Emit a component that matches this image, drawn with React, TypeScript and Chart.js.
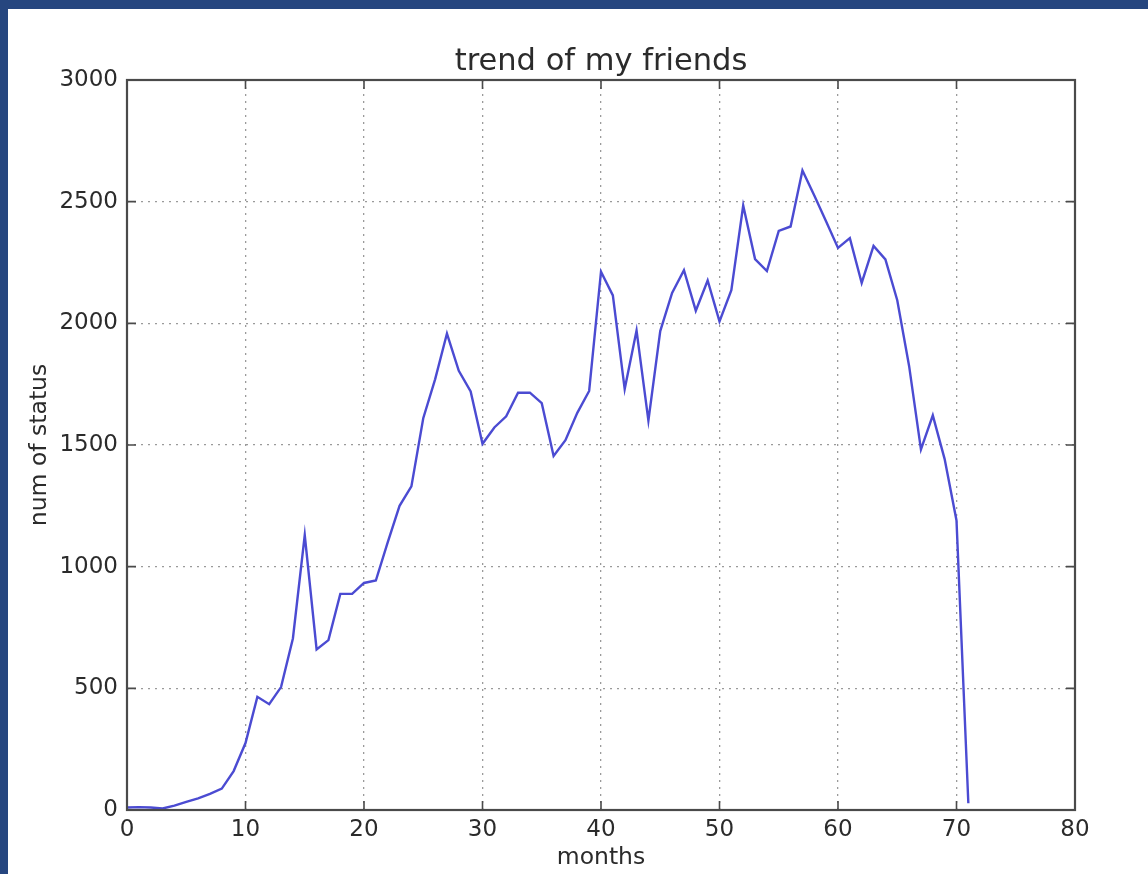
import React, { useEffect, useRef } from "react";
import { Chart, registerables } from "chart.js";

Chart.register(...registerables);

const TITLE = "trend of my friends";
const X_LABEL = "months";
const Y_LABEL = "num of status";

const statusCounts: number[] = [
  10, 12, 10, 6, 18, 33, 48, 66, 88, 160,
  275, 465, 435, 505, 705, 1130, 660, 698, 888, 888,
  933, 943, 1100, 1250, 1330, 1610, 1770, 1958, 1805, 1720,
  1505, 1572, 1618, 1715, 1715, 1672, 1455, 1520, 1632, 1722,
  2212, 2115, 1730, 1970, 1600, 1968, 2125, 2218, 2052, 2176,
  2008, 2136, 2484, 2264, 2215, 2380, 2398, 2628, 2525, 2418,
  2310, 2350, 2166, 2318, 2263, 2095, 1825, 1482, 1622, 1442,
  1190, 28,
];

const X_MIN = 0;
const X_MAX = 80;
const X_STEP = 10;
const Y_MIN = 0;
const Y_MAX = 3000;
const Y_STEP = 500;

const FONT = "'DejaVu Sans', 'Liberation Sans', sans-serif";
const TEXT_COLOR = "#2b2b2b";
const FRAME_COLOR = "#4a4a4a";

const framePlugin = {
  id: "mplFrame",
  afterDatasetsDraw(chart: any) {
    const { ctx, chartArea, scales } = chart;
    const { left, right, top, bottom } = chartArea;
    ctx.save();
    ctx.strokeStyle = FRAME_COLOR;
    ctx.lineWidth = 1.6;
    const tl = 9;
    ctx.beginPath();
    const xs = scales.x;
    for (let v = X_MIN; v <= X_MAX; v += X_STEP) {
      const px = xs.getPixelForValue(v);
      ctx.moveTo(px, bottom);
      ctx.lineTo(px, bottom - tl);
      ctx.moveTo(px, top);
      ctx.lineTo(px, top + tl);
    }
    const ys = scales.y;
    for (let v = Y_MIN; v <= Y_MAX; v += Y_STEP) {
      const py = ys.getPixelForValue(v);
      ctx.moveTo(left, py);
      ctx.lineTo(left + tl, py);
      ctx.moveTo(right, py);
      ctx.lineTo(right - tl, py);
    }
    ctx.stroke();
    ctx.lineWidth = 2.2;
    ctx.strokeRect(left, top, right - left, bottom - top);
    ctx.restore();
  },
};

export default function App() {
  const canvasRef = useRef<HTMLCanvasElement | null>(null);

  useEffect(() => {
    const canvas = canvasRef.current;
    if (!canvas) return;
    const points = statusCounts.map((v, i) => ({ x: i, y: v }));
    const chart = new Chart(canvas, {
      type: "line",
      data: {
        datasets: [
          {
            label: Y_LABEL,
            data: points,
            borderColor: "#4b4bd2",
            borderWidth: 2.4,
            pointRadius: 0,
            tension: 0,
            fill: false,
          },
        ],
      },
      options: {
        responsive: false,
        animation: false,
        maintainAspectRatio: false,
        layout: { padding: { left: 0, top: 0, right: 73, bottom: 0 } },
        plugins: {
          legend: { display: false },
          tooltip: { enabled: false },
          title: {
            display: true,
            text: TITLE,
            fullSize: false,
            color: TEXT_COLOR,
            font: { family: FONT, size: 30.5, weight: "normal", lineHeight: 1.2 },
            padding: { top: 43.4, bottom: 0 },
          },
        },
        scales: {
          x: {
            type: "linear",
            min: X_MIN,
            max: X_MAX,
            afterFit(scale: any) {
              scale.height = 64;
            },
            ticks: {
              stepSize: X_STEP,
              color: TEXT_COLOR,
              font: { family: FONT, size: 23 },
              padding: 6,
              maxRotation: 0,
              callback: (v: any) => String(v),
            },
            grid: {
              color: "#9a9a9a",
              lineWidth: 1.3,
              drawTicks: false,
            },
            border: { display: false, dash: [2, 5] },
            title: {
              display: true,
              text: X_LABEL,
              color: TEXT_COLOR,
              font: { family: FONT, size: 23.5, lineHeight: 1.2 },
              padding: { top: 0, bottom: 2 },
            },
          },
          y: {
            type: "linear",
            min: Y_MIN,
            max: Y_MAX,
            afterFit(scale: any) {
              scale.width = 127;
            },
            ticks: {
              stepSize: Y_STEP,
              color: TEXT_COLOR,
              font: { family: FONT, size: 23 },
              padding: 9,
              callback: (v: any) => String(v),
            },
            grid: {
              color: "#9a9a9a",
              lineWidth: 1.3,
              drawTicks: false,
            },
            border: { display: false, dash: [2, 5] },
            title: {
              display: true,
              text: Y_LABEL,
              color: TEXT_COLOR,
              font: { family: FONT, size: 23.5, lineHeight: 1.2 },
              padding: { top: 26, bottom: 0 },
            },
          },
        },
      },
      plugins: [framePlugin],
    });
    return () => chart.destroy();
  }, []);

  return (
    <div
      style={{
        position: "fixed",
        left: 0,
        top: 0,
        width: 1148,
        height: 874,
        background: "#26467f",
        overflow: "hidden",
      }}
    >
      <div
        style={{
          position: "absolute",
          left: 8,
          top: 9,
          right: 0,
          bottom: 0,
          background: "#ffffff",
        }}
      />
      <canvas
        ref={canvasRef}
        width={1148}
        height={874}
        style={{ position: "absolute", left: 0, top: 0, width: 1148, height: 874 }}
      />
    </div>
  );
}
